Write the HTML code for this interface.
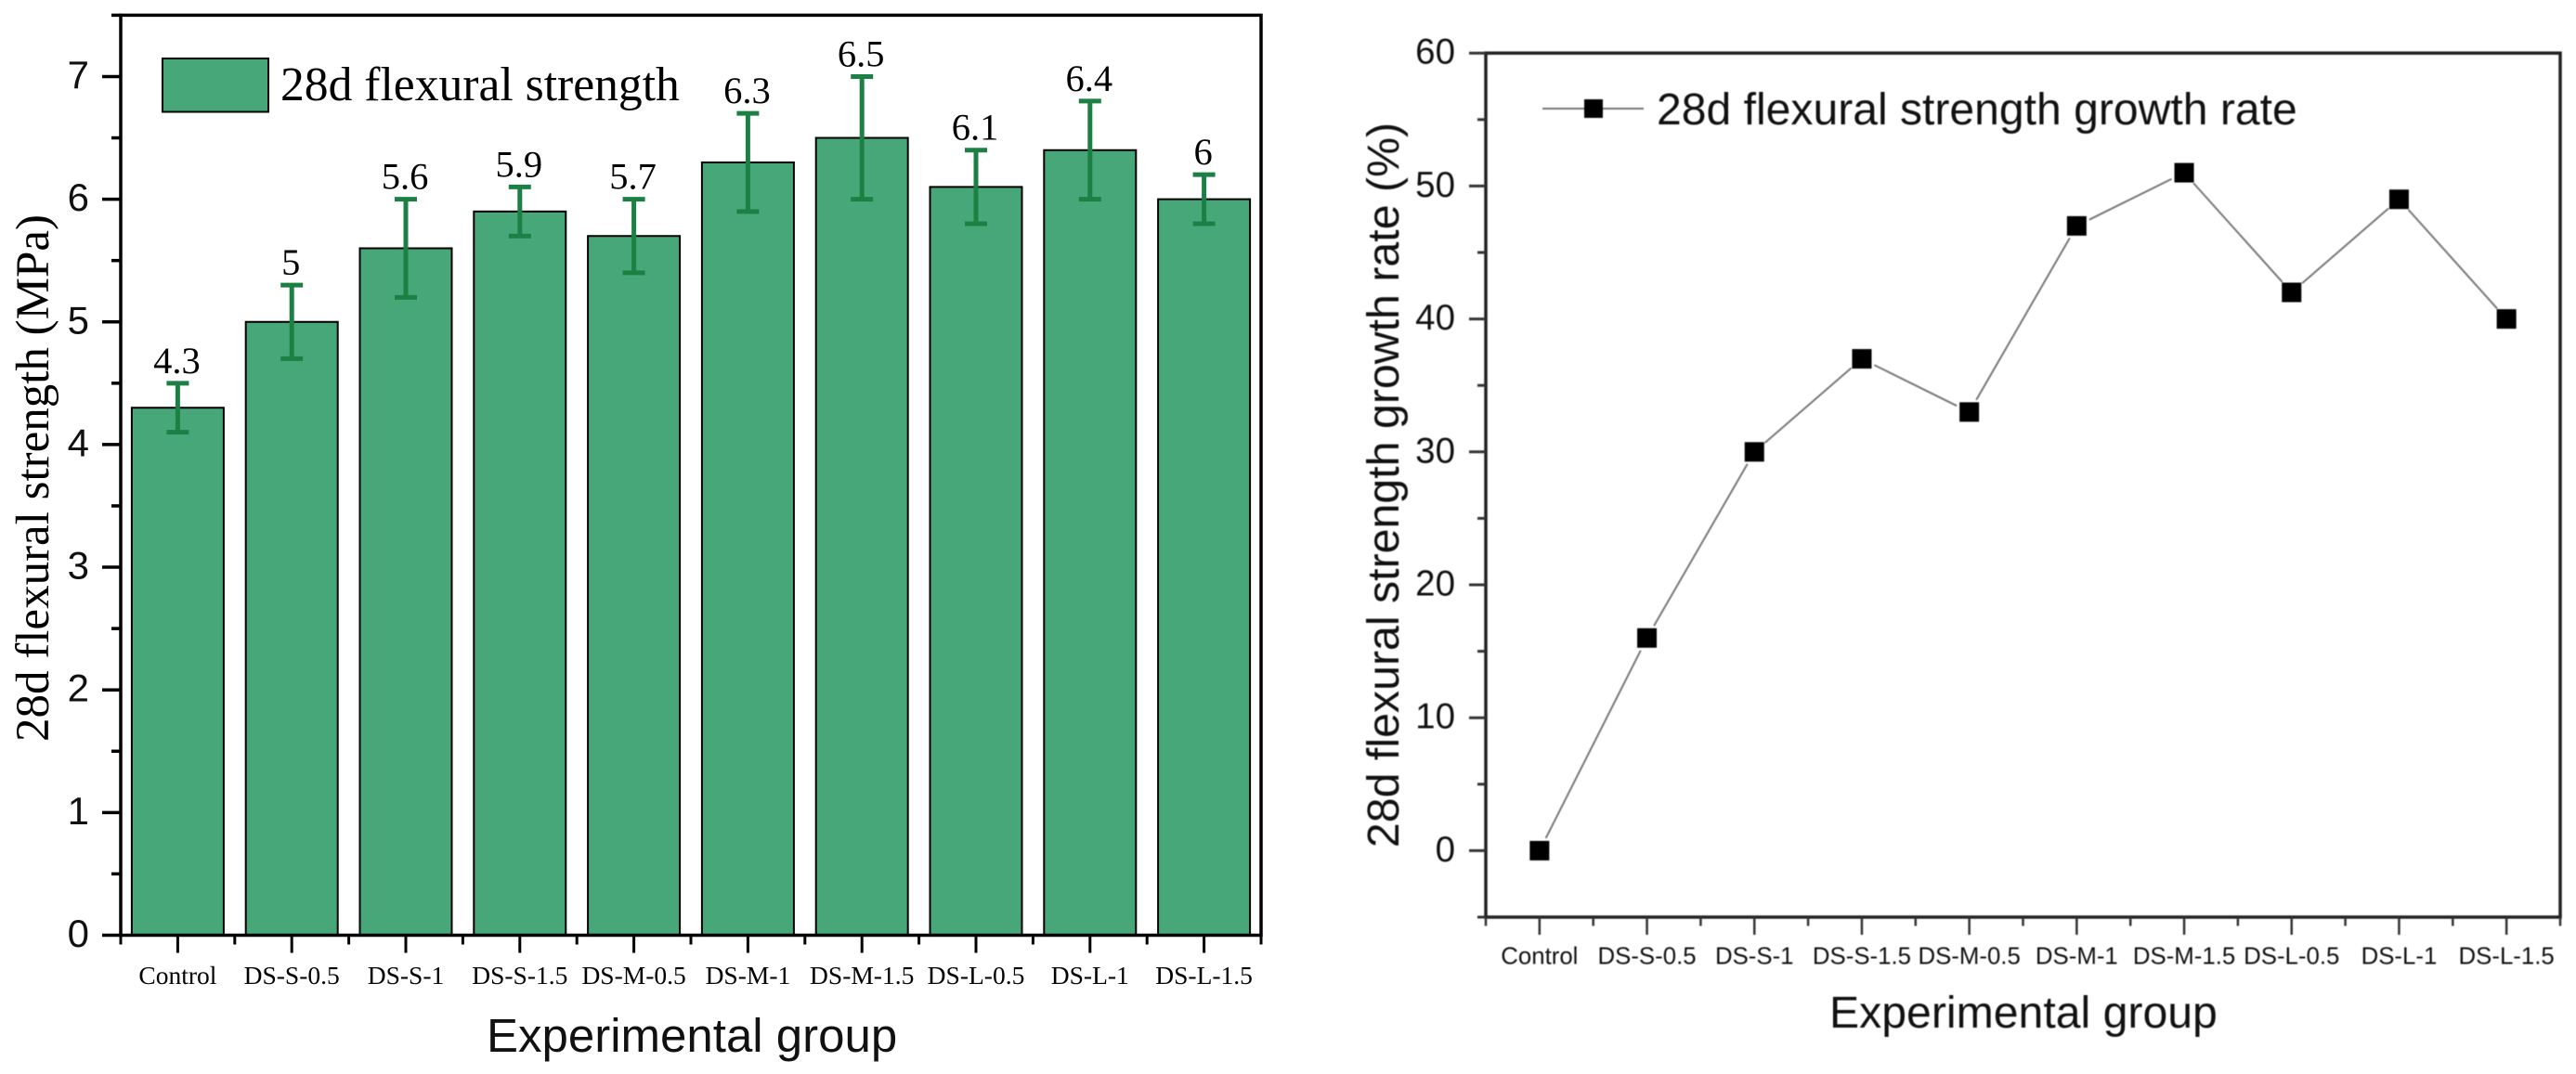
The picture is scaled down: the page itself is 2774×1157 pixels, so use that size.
<!DOCTYPE html>
<html lang="en">
<head>
<meta charset="utf-8">
<title>28d flexural strength and growth rate</title>
<style>
  html, body { margin: 0; padding: 0; background: #fff; }
  body { width: 2774px; height: 1157px; overflow: hidden; }
  svg { display: block; }
  .serif { font-family: "Liberation Serif", serif; fill: #000; }
  .sans { font-family: "Liberation Sans", sans-serif; fill: #111; }
  #right-chart { filter: blur(0.6px); }
</style>
</head>
<body>
<svg id="figure" xmlns="http://www.w3.org/2000/svg" width="2774" height="1157" viewBox="0 0 2774 1157">
  <rect x="0" y="0" width="2774" height="1157" fill="#ffffff"/>
  <g id="left-chart">
    <text class="serif" font-size="51" text-anchor="middle" transform="translate(52 515) rotate(-90)">28d flexural strength (MPa)</text>
    <text class="sans" font-size="51" x="524" y="1133">Experimental group</text>
    <rect x="175" y="63" width="114" height="57.5" fill="#48a778" stroke="#000" stroke-width="2"/>
    <text class="serif" font-size="51.6" x="302" y="108">28d flexural strength</text>
  </g>
  <g id="right-chart">
    <text class="sans" font-size="48.3" text-anchor="middle" transform="translate(1506 522.5) rotate(-90)">28d flexural strength growth rate (%)</text>
    <text class="sans" font-size="48.2" x="1970" y="1107">Experimental group</text>
    <line x1="1661" y1="117" x2="1770" y2="117" stroke="#777" stroke-width="2"/>
    <rect x="1706" y="107" width="20" height="20" fill="#000"/>
    <text class="sans" font-size="48.1" x="1784" y="134">28d flexural strength growth rate</text>
  </g>
</svg>
<script>
const categories = ["Control", "DS-S-0.5", "DS-S-1", "DS-S-1.5", "DS-M-0.5", "DS-M-1", "DS-M-1.5", "DS-L-0.5", "DS-L-1", "DS-L-1.5"];
const strengthValues = [4.3, 5, 5.6, 5.9, 5.7, 6.3, 6.5, 6.1, 6.4, 6];
const strengthErrors = [0.2, 0.3, 0.4, 0.2, 0.3, 0.4, 0.5, 0.3, 0.4, 0.2];
const strengthLabels = ["4.3", "5", "5.6", "5.9", "5.7", "6.3", "6.5", "6.1", "6.4", "6"];
const growthValues = [0, 16, 30, 37, 33, 47, 51, 42, 49, 40];
const leftYTicks = [0, 1, 2, 3, 4, 5, 6, 7];
const leftYMinorTicks = [0.5, 1.5, 2.5, 3.5, 4.5, 5.5, 6.5, 7.5];
const rightYTicks = [0, 10, 20, 30, 40, 50, 60];
const rightYMinorTicks = [-5, 5, 15, 25, 35, 45, 55];

const NS = "http://www.w3.org/2000/svg";
const leftGroup = document.getElementById("left-chart");
const rightGroup = document.getElementById("right-chart");

function mk(parent, tag, attrs, text) {
  const el = document.createElementNS(NS, tag);
  for (const k in attrs) el.setAttribute(k, attrs[k]);
  if (text !== undefined) el.textContent = text;
  parent.appendChild(el);
  return el;
}

/* axis functions */
const leftX = i => 130 + (i + 0.5) * 122.8;
const leftEdgeX = i => 130 + i * 122.8;
const leftY = v => 1007.5 - v * 132.15;
const rightX = i => 1600 + (i + 0.5) * 115.7;
const rightEdgeX = i => 1600 + i * 115.7;
const rightY = v => 916.4 - v * 14.32;

/* LEFT CHART: bars */
categories.forEach((c, i) => {
  const bar = mk(leftGroup, "rect", {
    x: leftX(i) - 49.5, y: leftY(strengthValues[i]), width: 99,
    height: leftY(0) - leftY(strengthValues[i]), fill: "#48a778", stroke: "#000", "stroke-width": 2
  });
  
  
});

/* LEFT CHART: error bars and value labels */
categories.forEach((c, i) => {
  const hi = leftY(strengthValues[i] + strengthErrors[i]);
  const lo = leftY(strengthValues[i] - strengthErrors[i]);
  const cx = leftX(i);
  const stem = mk(leftGroup, "line", { x1: cx, y1: hi, x2: cx, y2: lo, stroke: "#1c8045", "stroke-width": 5 });
  
  
  const capTop = mk(leftGroup, "line", { x1: cx - 12, y1: hi, x2: cx + 12, y2: hi, stroke: "#1c8045", "stroke-width": 5 });
  
  
  const capBottom = mk(leftGroup, "line", { x1: cx - 12, y1: lo, x2: cx + 12, y2: lo, stroke: "#1c8045", "stroke-width": 5 });
  
  
  const label = mk(leftGroup, "text", { x: cx - 1, y: hi - 11, "text-anchor": "middle", "font-size": 40.5, class: "serif" }, strengthLabels[i]);
  
  
});

/* LEFT CHART: frame */
const leftFrame = mk(leftGroup, "rect", {
  x: leftEdgeX(0), y: leftY(7.5), width: leftEdgeX(10) - leftEdgeX(0), height: leftY(0) - leftY(7.5),
  fill: "none", stroke: "#000", "stroke-width": 3.5
});



/* LEFT CHART: y ticks */
leftYTicks.forEach(v => {
  const t = mk(leftGroup, "line", { x1: 110, y1: leftY(v), x2: 130, y2: leftY(v), stroke: "#000", "stroke-width": 3.5 });
  
  
  const l = mk(leftGroup, "text", { x: 96, y: leftY(v) + 12.5, "text-anchor": "end", "font-size": 42, class: "sans" }, String(v));
  
  
});
leftYMinorTicks.forEach(v => {
  const t = mk(leftGroup, "line", { x1: 120, y1: leftY(v), x2: 130, y2: leftY(v), stroke: "#000", "stroke-width": 3.5 });
  
  
});

/* LEFT CHART: x ticks */
categories.forEach((c, i) => {
  const t = mk(leftGroup, "line", { x1: leftX(i), y1: leftY(0), x2: leftX(i), y2: leftY(0) + 19, stroke: "#000", "stroke-width": 3 });
  
  
  const l = mk(leftGroup, "text", { x: leftX(i), y: 1060, "text-anchor": "middle", "font-size": 27.5, class: "serif" }, c);
  
  
});
categories.concat(["end"]).forEach((c, i) => {
  const t = mk(leftGroup, "line", { x1: leftEdgeX(i), y1: leftY(0), x2: leftEdgeX(i), y2: leftY(0) + 10, stroke: "#000", "stroke-width": 3 });
  
  
});

/* RIGHT CHART: frame */
const rightFrame = mk(rightGroup, "rect", {
  x: rightEdgeX(0), y: rightY(60), width: rightEdgeX(10) - rightEdgeX(0), height: rightY(-5) - rightY(60),
  fill: "none", stroke: "#222", "stroke-width": 3.5
});



/* RIGHT CHART: y ticks */
rightYTicks.forEach(v => {
  const t = mk(rightGroup, "line", { x1: 1582, y1: rightY(v), x2: 1600, y2: rightY(v), stroke: "#333", "stroke-width": 3 });
  
  
  const l = mk(rightGroup, "text", { x: 1567, y: rightY(v) + 11.5, "text-anchor": "end", "font-size": 38.5, class: "sans" }, String(v));
  
  
});
rightYMinorTicks.forEach(v => {
  const t = mk(rightGroup, "line", { x1: 1591, y1: rightY(v), x2: 1600, y2: rightY(v), stroke: "#333", "stroke-width": 3 });
  
  
});

/* RIGHT CHART: x ticks */
categories.forEach((c, i) => {
  const t = mk(rightGroup, "line", { x1: rightX(i), y1: rightY(-5), x2: rightX(i), y2: rightY(-5) + 19, stroke: "#333", "stroke-width": 2.5 });
  
  
  const l = mk(rightGroup, "text", { x: rightX(i), y: 1038.5, "text-anchor": "middle", "font-size": 25.8, class: "sans" }, c);
  
  
});
categories.concat(["end"]).forEach((c, i) => {
  const t = mk(rightGroup, "line", { x1: rightEdgeX(i), y1: rightY(-5), x2: rightEdgeX(i), y2: rightY(-5) + 9.5, stroke: "#333", "stroke-width": 2.5 });
  
  
});

/* RIGHT CHART: line segments with a small gap around each marker */
const markerGap = 15;
growthValues.slice(1).forEach((v, k) => {
  const x0 = rightX(k), y0 = rightY(growthValues[k]);
  const x1 = rightX(k + 1), y1 = rightY(v);
  const len = Math.hypot(x1 - x0, y1 - y0);
  const ux = (x1 - x0) / len, uy = (y1 - y0) / len;
  const seg = mk(rightGroup, "line", {
    x1: x0 + ux * markerGap, y1: y0 + uy * markerGap,
    x2: x1 - ux * markerGap, y2: y1 - uy * markerGap,
    stroke: "#777", "stroke-width": 2
  });
  
  
});

/* RIGHT CHART: markers */
growthValues.forEach((v, i) => {
  const m = mk(rightGroup, "rect", { x: rightX(i) - 10.5, y: rightY(v) - 10.5, width: 21, height: 21, fill: "#000" });
  
  
});
</script>
</body>
</html>
